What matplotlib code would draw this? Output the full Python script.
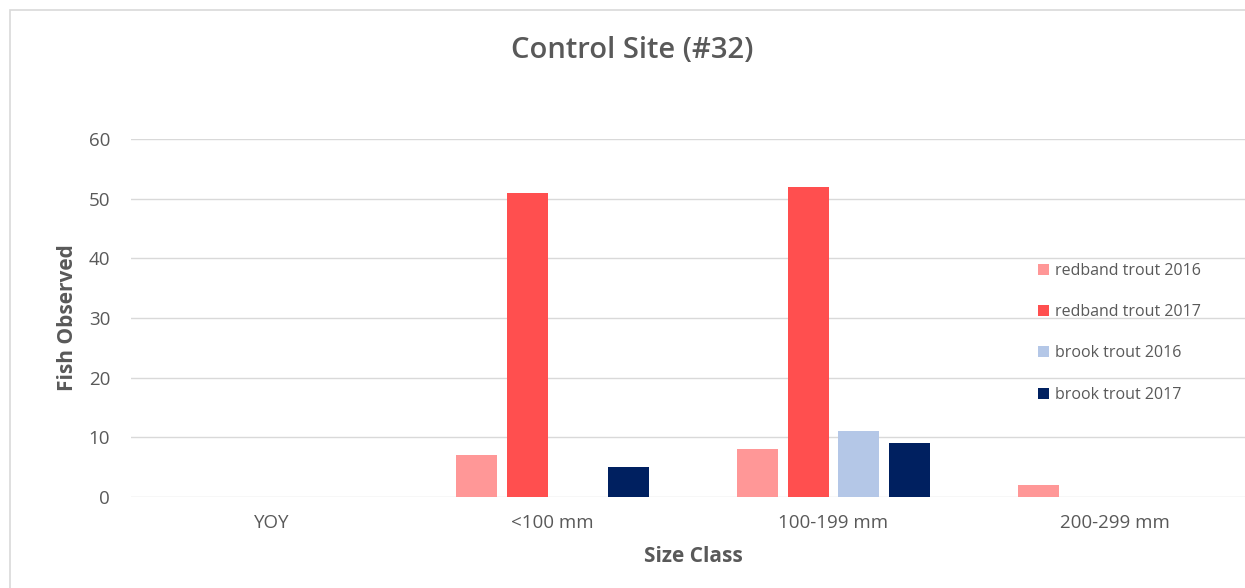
import matplotlib.pyplot as plt
import numpy as np
from matplotlib.patches import Rectangle

plt.rcParams['font.family'] = ['Open Sans', 'DejaVu Sans']

# fish counts per size class
size_classes = ['YOY', '<100 mm', '100-199 mm', '200-299 mm']
redband_2016 = [0, 7, 8, 2]
redband_2017 = [0, 51, 52, 0]
brook_2016 = [0, 0, 11, 0]
brook_2017 = [0, 5, 9, 0]

series = [
    ('redband trout 2016', redband_2016, '#FF9797'),
    ('redband trout 2017', redband_2017, '#FF4F4F'),
    ('brook trout 2016', brook_2016, '#B4C7E7'),
    ('brook trout 2017', brook_2017, '#002060'),
]

W, H = 1245, 588
fig = plt.figure(figsize=(W / 100, H / 100), dpi=100)

# outer chart border
fig.patches.append(Rectangle((10 / W, -0.1), 1.2, 1 - 10 / H + 0.1,
                             transform=fig.transFigure, fill=False,
                             edgecolor='#D9D9D9', linewidth=1.2))

ax = fig.add_axes([131 / W, 1 - 497 / H, 1124 / W, 358 / H])

x = np.arange(len(size_classes))
step = 0.18
width = 0.146
for i, (name, vals, col) in enumerate(series):
    ax.bar(x + (i - 1.5) * step, vals, width, color=col, label=name, zorder=3)

ax.set_xlim(-0.5, 3.5)
ax.set_ylim(0, 60)
ax.set_yticks(range(0, 61, 10))
ax.set_xticks(x)
ax.set_xticklabels(size_classes)
ax.grid(axis='y', color='#D9D9D9', linewidth=1, zorder=0)
for s in ax.spines.values():
    s.set_visible(False)
ax.tick_params(length=0, labelsize=13.5, colors='#595959')
ax.tick_params(axis='x', pad=12)
ax.tick_params(axis='y', pad=15)

fig.text(632 / W, 1 - 50 / H, 'Control Site (#32)', fontsize=21,
         color='#595959', fontweight='semibold', ha='center', va='center')
ax.set_xlabel('Size Class', fontsize=15, color='#595959',
              fontweight='bold', labelpad=10)
ax.set_ylabel('Fish Observed', fontsize=15, color='#595959',
              fontweight='bold', labelpad=8)

ax.legend(loc='upper left', bbox_to_anchor=(1030 / W, 1 - 255 / H),
          bbox_transform=fig.transFigure, frameon=False, fontsize=11.5,
          handlelength=0.7, handleheight=0.7, handletextpad=0.35,
          labelspacing=1.58, borderpad=0, labelcolor='#595959')

fig.savefig('out.png', dpi=100)
